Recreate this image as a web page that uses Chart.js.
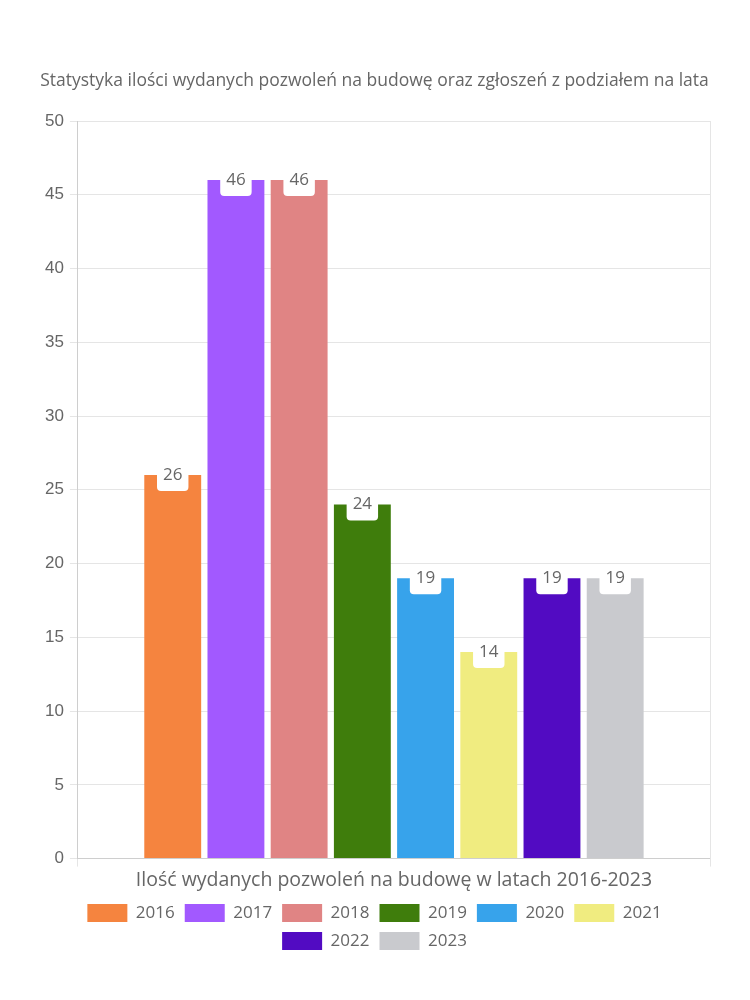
<!DOCTYPE html>
<html>
<head>
<meta charset="utf-8">
<script src="https://cdn.jsdelivr.net/npm/chart.js@4"></script>
<style>
  html, body { margin: 0; padding: 0; background: #fff; }
  #wrap { width: 750px; height: 1000px; position: relative; }
</style>
</head>
<body>
<div id="wrap"><canvas id="permitsChart"></canvas></div>
<script>
// data
const categories = ['Ilość wydanych pozwoleń na budowę w latach 2016-2023']
const years = ['2016', '2017', '2018', '2019', '2020', '2021', '2022', '2023']
const permits = [26, 46, 46, 24, 19, 14, 19, 19]
const barColors = ['#F5843F', '#A259FF', '#E08484', '#3F7D0C', '#37A3EB', '#F0EC80', '#520BC2', '#C9CACE']

const fontFamily = '"Open Sans", Lato, sans-serif'
const textColor = '#666'

const createDataset = (label, value, color) => {
    return {
        label: label,
        data: [value],
        backgroundColor: color,
        borderColor: color,
        borderWidth: 0,
        categoryPercentage: 0.8,
        barPercentage: 0.9,
    }
}

// white rounded boxes with the value, sitting on top of each bar
const valueBoxes = {
    id: 'valueBoxes',
    afterDatasetsDraw(chart) {
        const ctx = chart.ctx
        ctx.save()
        ctx.font = '17px ' + fontFamily
        ctx.textAlign = 'center'
        ctx.textBaseline = 'middle'
        chart.data.datasets.forEach((ds, i) => {
            const meta = chart.getDatasetMeta(i)
            if (meta.hidden) return
            meta.data.forEach((bar, j) => {
                const txt = String(ds.data[j])
                const w = ctx.measureText(txt).width + 12
                const h = 30
                ctx.fillStyle = '#fff'
                ctx.beginPath()
                ctx.roundRect(bar.x - w / 2, bar.y - h / 2 + 1, w, h, 4)
                ctx.fill()
                ctx.fillStyle = textColor
                ctx.fillText(txt, bar.x, bar.y)
            })
        })
        ctx.restore()
    }
}

const ctx = document.getElementById('permitsChart')
new Chart(ctx, {
    type: 'bar',
    data: {
        labels: categories,
        datasets: years.map((y, i) => createDataset(y, permits[i], barColors[i]))
    },
    options: {
        responsive: true,
        maintainAspectRatio: false,
        animation: false,
        layout: { padding: { top: 61, left: 39, right: 40, bottom: 40 } },
        plugins: {
            title: {
                display: true,
                text: 'Statystyka ilości wydanych pozwoleń na budowę oraz zgłoszeń z podziałem na lata',
                color: textColor,
                font: { family: fontFamily, size: 17.5, weight: 'normal' },
                padding: { top: 10, bottom: 29 }
            },
            legend: {
                position: 'bottom',
                labels: {
                    color: textColor,
                    font: { family: fontFamily, size: 17 },
                    boxWidth: 40,
                    boxHeight: 18,
                    padding: 10
                }
            },
            tooltip: { enabled: false }
        },
        scales: {
            x: {
                ticks: { color: textColor, font: { family: fontFamily, size: 19.5 }, padding: 2 }
            },
            y: {
                min: 0,
                max: 50,
                ticks: { stepSize: 5, color: textColor, padding: 6, font: { family: '"Liberation Sans", Arial, sans-serif', size: 17 } }
            }
        }
    },
    plugins: [valueBoxes]
})
</script>
</body>
</html>
